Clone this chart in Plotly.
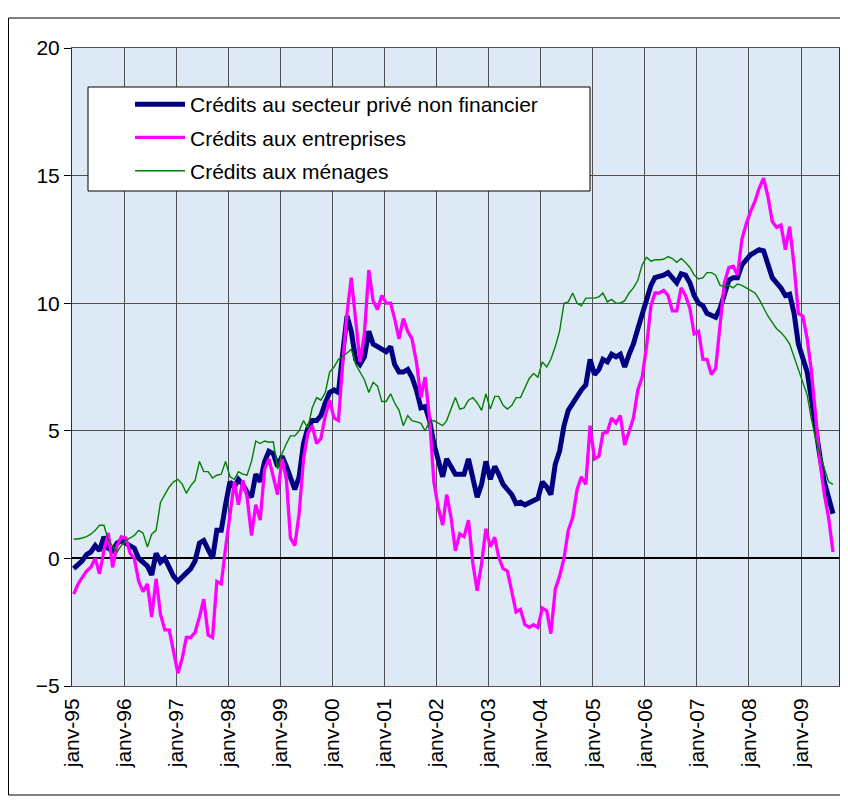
import pandas as pd
import plotly.graph_objects as go

# ---------------- data ----------------
tick_labels = ["janv-95", "janv-96", "janv-97", "janv-98", "janv-99", "janv-00", "janv-01",
               "janv-02", "janv-03", "janv-04", "janv-05", "janv-06", "janv-07", "janv-08", "janv-09"]

series_names = ["Crédits au secteur privé non financier",
                "Crédits aux entreprises",
                "Crédits aux ménages"]

credits_prive = [
    -0.4, -0.25, -0.1, 0.15, 0.25, 0.5, 0.3, 0.85, 0.4, 0.3, 0.6, 0.7,
    0.6, 0.45, 0.4, 0.0, -0.15, -0.3, -0.65, 0.2, -0.15, 0.0, -0.35, -0.7,
    -0.9, -0.75, -0.6, -0.4, -0.1, 0.6, 0.7, 0.3, 0.0, 1.1, 1.1, 2.1,
    3.0, 2.8, 3.1, 2.9, 2.6, 2.4, 3.3, 3.0, 3.8, 4.2, 4.1, 3.6,
    4.0, 3.6, 3.1, 2.7, 3.2, 4.5, 5.1, 5.4, 5.4, 5.6, 6.1, 6.5,
    6.6, 6.5, 8.0, 9.5, 8.9, 7.8, 7.6, 7.9, 8.9, 8.4, 8.3, 8.2,
    8.1, 8.3, 7.6, 7.3, 7.3, 7.4, 7.1, 6.6, 5.9, 5.95, 5.4, 4.5,
    3.8, 3.2, 3.9, 3.6, 3.3, 3.3, 3.3, 3.9, 3.2, 2.4, 2.9, 3.8,
    3.1, 3.6, 3.3, 2.9, 2.7, 2.5, 2.15, 2.2, 2.1, 2.2, 2.3, 2.35,
    3.0, 2.8, 2.5, 3.7, 4.2, 5.2, 5.8, 6.1, 6.4, 6.6, 6.8, 7.8,
    7.2, 7.4, 7.8, 7.7, 8.0, 7.9, 8.0, 7.5, 8.0, 8.4, 9.0, 9.6,
    10.2, 10.7, 11.0, 11.05, 11.1, 11.2, 11.0, 10.8, 11.15, 11.1, 10.8, 10.3,
    10.0, 9.9, 9.6, 9.5, 9.45, 9.8, 10.3, 10.9, 11.0, 11.0, 11.5, 11.7,
    11.9, 12.0, 12.1, 12.05, 11.5, 11.0, 10.8, 10.6, 10.3, 10.35, 9.6, 8.4,
    7.85, 7.3, 6.3, 5.0, 4.0, 3.0, 2.3, 1.75,
]

credits_entreprises = [
    -1.4, -1.0, -0.75, -0.5, -0.35, 0.0, -0.6, 0.3, 1.0, -0.35, 0.5, 0.85,
    0.8, 0.2, 0.0, -0.9, -1.3, -1.0, -2.3, -0.8, -2.2, -2.8, -2.8, -3.6,
    -4.5, -3.9, -3.1, -3.1, -2.9, -2.3, -1.6, -3.0, -3.1, -0.9, -1.0, 0.4,
    1.8, 3.0, 2.1, 3.06, 2.4, 0.9, 2.1, 1.5, 3.5, 3.9, 3.2, 2.5,
    3.9, 3.1, 0.8, 0.5, 1.75, 3.9, 4.9, 5.2, 4.5, 4.7, 5.6, 6.2,
    5.5, 5.4, 7.6, 9.6, 11.0, 9.3, 7.7, 8.8, 11.3, 10.1, 9.75, 10.3,
    10.0, 10.0, 9.4, 8.6, 9.4, 8.9, 8.6, 7.7, 6.3, 7.1, 5.5, 3.0,
    2.0, 1.3, 2.5, 1.6, 0.3, 0.96, 0.85, 1.5, -0.2, -1.27, -0.2, 1.16,
    0.45, 0.83, 0.05, -0.4, -0.5, -1.3, -2.1, -2.0, -2.6, -2.7, -2.6, -2.7,
    -1.95, -2.05, -2.95, -1.2, -0.7, 0.0, 1.1, 1.6, 2.7, 3.2, 2.9, 5.2,
    3.9, 4.0, 4.9, 4.95, 5.5, 5.3, 5.6, 4.44, 5.0, 5.5, 6.6, 7.1,
    8.3, 9.9, 10.4, 10.4, 10.5, 10.3, 9.7, 9.7, 10.6, 10.3, 9.8, 8.8,
    8.9, 7.8, 7.8, 7.2, 7.45, 9.1, 10.8, 11.4, 11.45, 11.1, 12.5, 13.1,
    13.6, 14.0, 14.5, 14.9, 14.2, 13.2, 12.97, 13.06, 12.1, 13.0, 11.46, 9.6,
    9.5, 8.6, 7.4, 5.6, 3.8, 2.5, 1.6, 0.25,
]

credits_menages = [
    0.76, 0.76, 0.8, 0.85, 0.95, 1.1, 1.3, 1.3, 0.7, 0.5, 0.25, 0.5,
    0.7, 0.8, 0.9, 1.1, 1.0, 0.45, 0.95, 1.1, 2.2, 2.5, 2.8, 3.0,
    3.1, 2.9, 2.55, 2.85, 3.05, 3.8, 3.4, 3.4, 3.15, 3.26, 3.3, 3.8,
    3.2, 3.1, 3.4, 3.3, 3.26, 3.8, 4.6, 4.5, 4.6, 4.55, 4.57, 3.5,
    4.1, 4.5, 4.8, 4.8, 5.0, 5.4, 5.1, 5.9, 6.3, 6.2, 6.5, 7.3,
    7.5, 7.8, 7.9, 8.05, 8.2, 7.6, 7.3, 7.0, 6.5, 6.9, 6.75, 6.15,
    6.15, 6.45, 6.1, 5.8, 5.2, 5.6, 5.4, 5.35, 5.3, 5.0, 5.35, 5.4,
    5.3, 5.2, 5.4, 5.9, 6.3, 5.85, 5.9, 6.2, 6.3, 6.1, 5.8, 6.45,
    5.85, 6.35, 6.35, 6.0, 5.85, 6.0, 6.3, 6.3, 6.7, 7.05, 7.25, 7.1,
    7.7, 7.5, 7.8, 8.3, 8.9, 10.0, 10.05, 10.4, 10.0, 9.9, 10.2, 10.2,
    10.2, 10.25, 10.4, 10.05, 10.15, 10.0, 10.0, 10.1, 10.4, 10.6, 10.9, 11.5,
    11.8, 11.65, 11.7, 11.7, 11.72, 11.83, 11.75, 11.6, 11.75, 11.6, 11.4, 11.1,
    10.95, 11.0, 11.2, 11.2, 11.1, 10.7, 10.65, 10.7, 10.6, 10.75, 10.7, 10.6,
    10.5, 10.4, 10.15, 9.8, 9.5, 9.25, 9.0, 8.85, 8.65, 8.4, 7.9, 7.45,
    6.9, 6.4, 5.5, 4.7, 4.1, 3.55, 3.0, 2.9,
]

# ---------------- figure ----------------
months = pd.date_range("1995-01-01", periods=len(credits_prive), freq="MS") + pd.Timedelta(days=12)
tickvals = pd.date_range("1995-01-01", periods=len(tick_labels), freq="YS")

FONT = "Liberation Sans, Arial, sans-serif"
FS = 21

fig = go.Figure()
fig.add_trace(go.Scatter(x=months, y=credits_prive, mode="lines", name=series_names[0],
                         legendgroup="a", line=dict(color="#000080", width=5)))
fig.add_trace(go.Scatter(x=months, y=credits_entreprises, mode="lines", name=series_names[1],
                         legendgroup="b", line=dict(color="#ff00ff", width=3.3)))
fig.add_trace(go.Scatter(x=months, y=credits_menages, mode="lines", name=series_names[2],
                         legendgroup="c", line=dict(color="#008000", width=1.4)))

W, H = 848, 800
PAGE = 8  # page body margin of the html page
ML, MR, MT, MB = 64, 17, 40, 122
PW, PH = W - ML - MR, H - MT - MB


def px_x(p):
    return (p - PAGE - ML) / PW


def px_y(p):
    return (H - MB - (p - PAGE)) / PH


fig.update_layout(
    width=W, height=H,
    margin=dict(l=ML, r=MR, t=MT, b=MB),
    paper_bgcolor="white",
    plot_bgcolor="#dde9f5",
    font=dict(family=FONT, size=FS, color="black"),
    showlegend=True,
    legend=dict(x=px_x(130), y=px_y(84), xanchor="left", yanchor="top",
                bgcolor="rgba(0,0,0,0)", borderwidth=0, tracegroupgap=3,
                itemwidth=50,
                font=dict(family=FONT, size=FS, color="black")),
    xaxis=dict(type="date", range=["1995-01-01", "2009-09-24"],
               tickmode="array", tickvals=tickvals, ticktext=tick_labels, tickangle=-90,
               showgrid=True, gridcolor="#505050", gridwidth=1,
               showline=True, linecolor="#505050", linewidth=1, mirror=True,
               ticks="", zeroline=False, ticklabelstandoff=3,
               tickfont=dict(family=FONT, size=FS, color="black")),
    yaxis=dict(range=[-5, 20], tick0=0, dtick=5,
               showgrid=True, gridcolor="#505050", gridwidth=1,
               zeroline=True, zerolinecolor="black", zerolinewidth=1.5,
               showline=True, linecolor="#303030", linewidth=1, mirror=True,
               ticks="outside", ticklen=7, tickcolor="black",
               tickfont=dict(family=FONT, size=FS, color="black")),
    shapes=[
        # legend box
        dict(type="rect", xref="paper", yref="paper", layer="above",
             x0=px_x(88), x1=px_x(590), y0=px_y(191), y1=px_y(87),
             fillcolor="white", line=dict(color="black", width=1)),
        # outer frame
        dict(type="rect", xref="paper", yref="paper", layer="above",
             x0=px_x(8.5), x1=px_x(843), y0=px_y(795), y1=px_y(18),
             fillcolor="rgba(0,0,0,0)", line=dict(color="black", width=1)),
    ],
)

fig.write_html("out.html")
